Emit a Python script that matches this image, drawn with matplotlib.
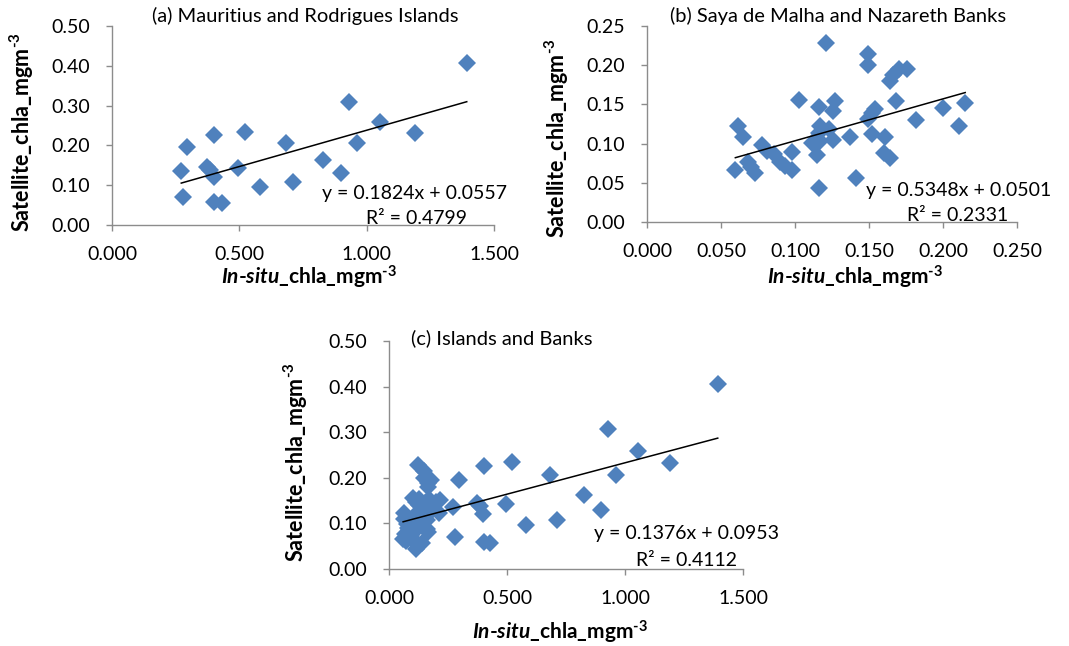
import matplotlib
matplotlib.use("Agg")
import matplotlib.pyplot as plt
import numpy as np

plt.rcParams['font.family'] = ['Lato', 'DejaVu Sans']
plt.rcParams['mathtext.fontset'] = 'custom'
plt.rcParams['mathtext.rm'] = 'Lato:bold'
plt.rcParams['mathtext.it'] = 'Lato:bold:italic'
plt.rcParams['mathtext.bf'] = 'Lato:bold'

# ---------------- data ----------------
islands_insitu = [0.272, 0.279, 0.295, 0.372, 0.386, 0.401, 0.400, 0.401, 0.430,
                  0.495, 0.521, 0.580, 0.683, 0.711, 0.827, 0.900, 0.929, 0.962,
                  1.053, 1.190, 1.393]
islands_sat = [0.136, 0.071, 0.195, 0.145, 0.138, 0.226, 0.121, 0.059, 0.056,
               0.142, 0.234, 0.096, 0.207, 0.108, 0.163, 0.130, 0.308, 0.207,
               0.259, 0.232, 0.406]

banks_insitu = [0.0597, 0.0617, 0.0649, 0.068, 0.070, 0.073, 0.078, 0.081, 0.086,
                0.090, 0.093, 0.098, 0.098, 0.103, 0.1115, 0.115, 0.116, 0.116,
                0.117, 0.117, 0.116, 0.121, 0.123, 0.126, 0.127, 0.126, 0.137,
                0.141, 0.149, 0.149, 0.149, 0.152, 0.154, 0.152, 0.161, 0.160,
                0.164, 0.164, 0.166, 0.170, 0.168, 0.176, 0.182, 0.200, 0.211,
                0.215]
banks_sat = [0.066, 0.123, 0.109, 0.076, 0.070, 0.062, 0.098, 0.091, 0.087,
             0.077, 0.072, 0.066, 0.089, 0.156, 0.101, 0.086, 0.043, 0.147,
             0.122, 0.103, 0.114, 0.228, 0.118, 0.141, 0.154, 0.104, 0.108,
             0.056, 0.214, 0.200, 0.132, 0.139, 0.144, 0.112, 0.108, 0.088,
             0.082, 0.180, 0.188, 0.195, 0.154, 0.195, 0.130, 0.146, 0.123,
             0.152]

combined_insitu = islands_insitu + banks_insitu
combined_sat = islands_sat + banks_sat

titles = ["(a) Mauritius and Rodrigues Islands",
          "(b) Saya de Malha and Nazareth Banks",
          "(c) Islands and Banks"]
slopes = [0.1824, 0.5348, 0.1376]
intercepts = [0.0557, 0.0501, 0.0953]
r2_values = [0.4799, 0.2331, 0.4112]

xticks_ab = [0.0, 0.5, 1.0, 1.5]
yticks_ac = [0.0, 0.1, 0.2, 0.3, 0.4, 0.5]
xticks_b = [0.0, 0.05, 0.10, 0.15, 0.20, 0.25]
yticks_b = [0.0, 0.05, 0.10, 0.15, 0.20, 0.25]

# ---------------- layout ----------------
W, H = 1069, 646
fig = plt.figure(figsize=(W / 100, H / 100), dpi=100)


def rect(l, r, t, b):
    return [l / W, 1 - b / H, (r - l) / W, (b - t) / H]


def fp(x, y):
    return (x / W, 1 - y / H)


MARKER_COLOR = '#4F81BD'
AXIS_COLOR = '#8C8C8C'
FS = 14
SUP = r'$^{\text{-}3}$'

panels = [
    dict(rect=rect(112, 494, 26, 225), x=islands_insitu, y=islands_sat,
         xt=xticks_ab, yt=yticks_ac, xf='{:.3f}', yf='{:.2f}',
         title_xy=(305, 16), eq_xy=(415, 193), r2_xy=(417, 218),
         ylab_xy=(22, 132), xlab_xy=(309, 277)),
    dict(rect=rect(647, 1017, 26, 222), x=banks_insitu, y=banks_sat,
         xt=xticks_b, yt=yticks_b, xf='{:.3f}', yf='{:.2f}',
         title_xy=(838, 16), eq_xy=(959, 190), r2_xy=(958, 215),
         ylab_xy=(557, 138), xlab_xy=(855, 277)),
    dict(rect=rect(389, 743, 341, 569), x=combined_insitu, y=combined_sat,
         xt=xticks_ab, yt=yticks_ac, xf='{:.3f}', yf='{:.2f}',
         title_xy=(502, 338), eq_xy=(686, 533), r2_xy=(686, 561),
         ylab_xy=(296, 462), xlab_xy=(560, 632)),
]

for i, p in enumerate(panels):
    ax = fig.add_axes(p['rect'])
    ax.plot(p['x'], p['y'], linestyle='none', marker='D', markersize=9.5,
            color=MARKER_COLOR, markeredgewidth=0, zorder=3, clip_on=False)
    xs = np.array([min(p['x']), max(p['x'])])
    ax.plot(xs, slopes[i] * xs + intercepts[i], color='black', lw=1.1, zorder=4)

    ax.set_xlim(p['xt'][0], p['xt'][-1])
    ax.set_ylim(p['yt'][0], p['yt'][-1])
    ax.set_xticks(p['xt'])
    ax.set_yticks(p['yt'])
    ax.set_xticklabels([p['xf'].format(v) for v in p['xt']])
    ax.set_yticklabels([p['yf'].format(v) for v in p['yt']])
    for s in ['top', 'right']:
        ax.spines[s].set_visible(False)
    for s in ['left', 'bottom']:
        ax.spines[s].set_color(AXIS_COLOR)
        ax.spines[s].set_linewidth(1.0)
    ax.tick_params(axis='x', direction='out', length=4, width=1.0,
                   color=AXIS_COLOR, labelsize=FS, pad=11)
    ax.tick_params(axis='y', direction='out', length=4.5, width=1.0,
                   color=AXIS_COLOR, labelsize=FS, pad=11)
    ax.patch.set_alpha(0)

    fig.text(*fp(*p['title_xy']), titles[i], ha='center', va='center',
             fontsize=FS + 0.5)
    fig.text(*fp(*p['eq_xy']),
             'y = {:.4f}x + {:.4f}'.format(slopes[i], intercepts[i]),
             ha='center', va='center', fontsize=FS)
    fig.text(*fp(*p['r2_xy']), 'R² = {:.4f}'.format(r2_values[i]),
             ha='center', va='center', fontsize=FS)
    fig.text(*fp(*p['ylab_xy']), 'Satellite_chla_mgm' + SUP, rotation=90,
             ha='center', va='center', fontsize=15.5, fontweight='bold')
    fig.text(*fp(*p['xlab_xy']),
             r'$\mathit{In}$-$\mathit{situ}$_chla_mgm' + SUP,
             ha='center', va='center', fontsize=15, fontweight='bold')

fig.savefig('out.png', dpi=100)
